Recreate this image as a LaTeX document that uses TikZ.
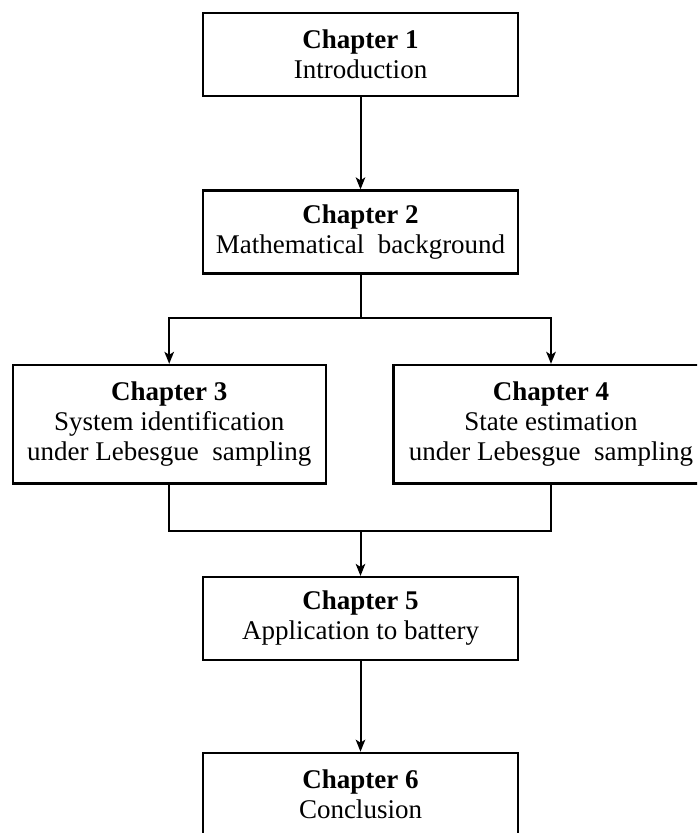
\documentclass[tikz,border=0pt]{standalone}
\usepackage{fontspec}
\setmainfont{Liberation Serif}
\usetikzlibrary{arrows.meta}
\begin{document}
\begin{tikzpicture}[x=1pt,y=-1pt,
  chap/.style={draw, line width=2.2pt, minimum width=315pt, minimum height=83pt,
    inner sep=0pt, align=center, font=\fontsize{27}{30}\selectfont},
  conn/.style={line width=2pt},
  arr/.style={conn, -{Stealth[length=12pt,width=9.5pt,inset=3pt]}}]
\useasboundingbox (0,0) rectangle (697,833);
\clip (0,0) rectangle (697,833);
\node[chap] (b1) at (360.5,54.5) {\textbf{Chapter 1}\\Introduction};
\node[chap] (b2) at (360.5,232) {\textbf{Chapter 2}\\Mathematical\ \ background};
\node[chap, minimum width=313pt, minimum height=118.5pt] (b3) at (169.2,424.2)
  {\textbf{Chapter 3}\\System identification\\under Lebesgue\ \ sampling};
\node[chap, minimum height=118.5pt] (b4) at (551,424.2)
  {\textbf{Chapter 4}\\State estimation\\under Lebesgue\ \ sampling};
\node[chap] (b5) at (360.5,618.5) {\textbf{Chapter 5}\\Application to battery};
\node[chap] (b6) at (360.5,794.3) {\textbf{Chapter 6}\\Conclusion};
\coordinate (split) at (360.5,318);
\coordinate (join) at (360.5,531);
\draw[arr] (b1.south) -- (b2.north);
\draw[conn] (b2.south) -- (split);
\draw[arr] (split) -| (b3.north);
\draw[arr] (split) -| (b4.north);
\draw[conn] (b3.south) |- (join);
\draw[conn] (b4.south) |- (join);
\draw[arr] (join) -- (b5.north);
\draw[arr] (b5.south) -- (b6.north);
\end{tikzpicture}
\end{document}
